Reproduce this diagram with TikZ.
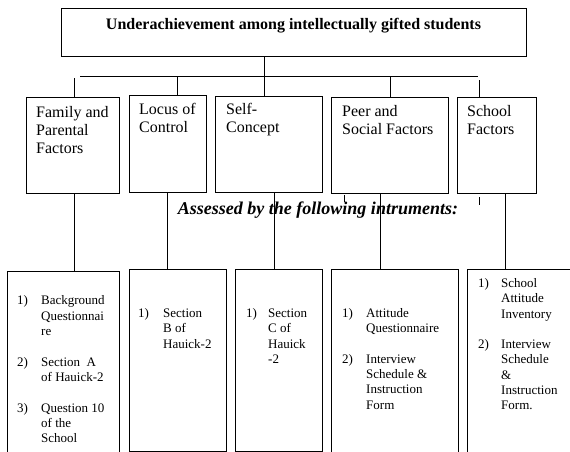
\documentclass[tikz,border=0pt]{standalone}
\usepackage{fontspec}
\setmainfont{Liberation Serif}
\usepackage{array}
\tikzset{
  lw/.style={line width=1pt},
  boxnode/.style={draw, lw, inner sep=0pt, anchor=north west},
  ghost/.style={inner sep=0pt, anchor=north west},
  catfont/.style={font=\fontsize{16}{18}\selectfont},
  txtnode/.style={inner sep=0pt, anchor=north west, align=left},
}
\newcommand{\inst}[2]{\begin{tabular}{@{}p{#1}@{}l@{}}#2\end{tabular}}
\newcommand{\cat}[1]{\begin{tabular}{@{}l@{}}#1\end{tabular}}
\begin{document}
\begin{tikzpicture}[x=1pt,y=-1pt]
\path[use as bounding box, clip] (0,0) rectangle (570,452);
\fill[white] (0,0) rectangle (570,452);

% top box
\node[boxnode, minimum width=465pt, minimum height=48pt] (top) at (61,8) {};
\node[inner sep=0pt, anchor=base, font=\bfseries\fontsize{16}{18}\selectfont] (title) at (293.5,29.5)
  {Underachievement among intellectually gifted students};

% connectors to row 2
\coordinate (hub) at (264,76);
\coordinate (hl) at (80,76);
\coordinate (hr) at (478,76);
\coordinate (famtop) at (74,78);
\coordinate (schtop) at (479,80);

% row 2 boxes
\node[boxnode, minimum width=93pt, minimum height=96pt] (fam) at (26,97) {};
\node[boxnode, minimum width=77pt, minimum height=97pt] (loc) at (129,95) {};
\node[boxnode, minimum width=107pt, minimum height=96pt] (self) at (215,96) {};
\node[boxnode, minimum width=117pt, minimum height=96pt] (peer) at (331,97) {};
\node[boxnode, minimum width=79pt, minimum height=96pt] (sch) at (457,97) {};

\draw[lw] (hl) -- (hr);
\draw[lw] (top.south -| hub) -- (self.north -| hub);
\draw[lw] (famtop) -- (fam.north -| famtop);
\draw[lw] (hub -| 177,0) -- (loc.north -| 177,0);
\draw[lw] (hub -| 390,0) -- (peer.north -| 390,0);
\draw[lw] (schtop) -- (sch.north -| schtop);

% row 2 texts
\node[txtnode, catfont] (famt) at (36,105) {\cat{Family and\\Parental\\Factors}};
\node[txtnode, catfont] (loct) at (139,102) {\cat{Locus of\\Control}};
\node[txtnode, catfont] (selft) at (226,102) {\cat{Self-\\Concept}};
\node[txtnode, catfont] (peert) at (342,104) {\cat{Peer and\\Social Factors}};
\node[txtnode, catfont] (scht) at (467,104) {\cat{School\\Factors}};

% assessed
\node[inner sep=0pt, anchor=base, font=\bfseries\itshape\fontsize{18}{20}\selectfont] (assessed) at (318,214)
  {Assessed by the following intruments:};

% row 3 boxes
\node[ghost, minimum width=112pt, minimum height=182pt] (b1) at (7,271) {};
\node[boxnode, minimum width=97pt, minimum height=182pt] (b2) at (129,269) {};
\node[boxnode, minimum width=87pt, minimum height=182pt] (b3) at (235,269) {};
\node[ghost, minimum width=127pt, minimum height=184pt] (b4) at (331,269) {};
\node[ghost, minimum width=110pt, minimum height=184pt] (b5) at (467,269) {};
\draw[lw] (b1.south west) -- (b1.north west) -- (b1.north east) -- (b1.south east);
\draw[lw] (b4.south west) -- (b4.north west) -- (b4.north east) -- (b4.south east);
\draw[lw] (b5.south west) -- (b5.north west) -- (b5.north east);

% connectors row 2 -> row 3
\draw[lw] (fam.south -| 74,0) -- (b1.north -| 74,0);
\draw[lw] (loc.south -| 167,0) -- (b2.north -| 167,0);
\draw[lw] (self.south -| 274,0) -- (b3.north -| 274,0);
\draw[lw] (peer.south -| 380,0) -- (b4.north -| 380,0);
\draw[lw] (sch.south -| 505,0) -- (b5.north -| 505,0);

% small stray ticks
\coordinate (t1a) at (344,195); \coordinate (t1b) at (344,202);
\coordinate (t2a) at (479,197); \coordinate (t2b) at (479,205);
\draw[lw] (t1a) -- (t1b);
\draw[lw] (t2a) -- (t2b);

% row 3 texts
\begin{scope}[every node/.style={txtnode, font=\fontsize{13}{15.3}\selectfont}]
\node (b1t) at (17,294) {\inst{24pt}{1) & Background\\ & Questionnai\\ & re\\ & \\ 2) & Section\ \ A\\ & of Hauick-2\\ & \\ 3) & Question 10\\ & of the\\ & School}};
\node (b2t) at (138,306.5) {\inst{25pt}{1) & Section\\ & B of\\ & Hauick-2}};
\node (b3t) at (246,306.5) {\inst{22pt}{1) & Section\\ & C of\\ & Hauick\\ & -2}};
\node (b4t) at (342,306.5) {\inst{24pt}{1) & Attitude\\ & Questionnaire\\ & \\ 2) & Interview\\ & Schedule \&\\ & Instruction\\ & Form}};
\node (b5t) at (478,276.5) {\inst{23pt}{1) & School\\ & Attitude\\ & Inventory\\ & \\ 2) & Interview\\ & Schedule\\ & \&\\ & Instruction\\ & Form.}};
\end{scope}
\end{tikzpicture}
\end{document}
